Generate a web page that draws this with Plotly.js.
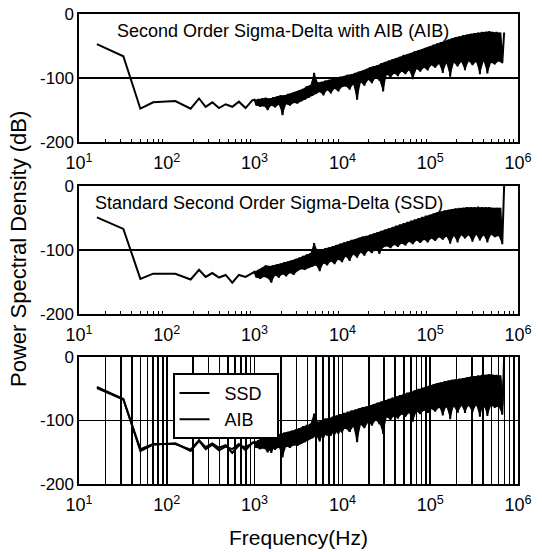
<!DOCTYPE html>
<html>
<head>
<meta charset="utf-8">
<script src="https://cdn.plot.ly/plotly-3.0.1.min.js"></script>
<style>html,body{margin:0;padding:0;background:#fff;}#chart{width:542px;height:552px;}</style>
</head>
<body>
<div id="chart"></div>
<script>
// Frequency bins (Hz)
const freq = [16, 32, 50, 70, 125, 187, 233, 277, 330, 393, 468, 557, 663, 789, 940,
  1000,1050,1100,1160,1220,1280,1340,1410,1480,1550,1630,1710,1800,1890,1980,2080,2180,2290,2410,2530,
  2650,2790,2930,3070,3230,3390,3560,3740,3920,4120,4320,4540,4760,5000,5250,5520,5790,6080,6390,6710,
  7040,7390,7760,8150,8560,8990,9440,9910,
  10400,10900,11500,12100,12700,13300,14000,14700,15400,16200,17000,17800,18700,19700,20700,21700,22800,23900,25100,26400,
  27700,29100,30500,32000,33600,35300,37100,39000,40900,42900,45100,47300,49700,52200,54800,57500,60400,63400,66600,69900,
  73400,77100,80900,85000,89200,93700,98400,
  103000,109000,114000,120000,126000,132000,139000,146000,153000,161000,169000,177000,186000,195000,205000,215000,226000,237000,249000,262000,
  275000,289000,303000,318000,334000,351000,368000,387000,406000,426000,448000,470000,494000,518000,544000,571000,600000,630000,662000,695000];

// PSD of second order sigma-delta with AIB (dB)
const aib = [-47,-66,-148,-138,-136,-148,-132,-145,-138,-147,-141,-145,-137,-147,-135,
  -134,-143,-133,-145,-132,-144,-131,-150,-132,-143,-130,-146,-129,-142,-127,-158,-127,-141,-125,-143,
  -124,-139,-122,-140,-120,-136,-117,-134,-113,-131,-111,-128,-92,-125,-107,-122,-106,-127,-104,-119,
  -103,-124,-101,-117,-100,-121,-98,-114,
  -97,-113,-95,-118,-94,-110,-92,-134,-90,-107,-89,-112,-86,-103,-83,-108,-82,-100,-80,-104,
  -77,-121,-75,-95,-73,-99,-71,-93,-69,-97,-67,-90,-64,-94,-63,-88,-61,-102,-58,-86,
  -57,-90,-55,-84,-53,-88,-51,
  -80,-48,-84,-46,-78,-44,-92,-42,-77,-40,-98,-38,-76,-36,-82,-35,-75,-33,-88,-32,
  -74,-31,-80,-30,-75,-29,-94,-28,-74,-28,-93,-27,-76,-28,-79,-28,-74,-29,-77,-29];

// PSD of standard second order sigma-delta (dB)
const ssd = [-49,-67,-145,-137,-137,-146,-131,-142,-136,-143,-139,-151,-139,-142,-136,
  -134,-143,-131,-145,-128,-142,-124,-144,-125,-151,-124,-140,-122,-143,-121,-138,-119,-141,-118,-136,
  -116,-139,-114,-133,-112,-130,-109,-131,-107,-128,-105,-126,-89,-124,-102,-133,-100,-121,-97,-124,
  -96,-118,-94,-122,-92,-115,-90,-119,
  -88,-110,-86,-117,-84,-107,-83,-112,-81,-104,-79,-109,-78,-101,-76,-105,-74,-98,-72,-106,
  -70,-96,-68,-94,-66,-97,-64,-92,-62,-95,-60,-90,-58,-93,-56,-87,-54,-91,-52,-85,
  -50,-89,-48,-84,-46,-88,-45,
  -82,-43,-86,-41,-80,-40,-84,-38,-79,-37,-90,-36,-78,-35,-88,-34,-77,-34,-82,-33,
  -77,-33,-87,-33,-76,-32,-85,-33,-77,-33,-88,-33,-76,-34,-80,-34,-78,-34,-91,0];

const xTickVals = [10, 100, 1000, 10000, 100000, 1000000];
const xTickText = ['10<sup>1</sup>','10<sup>2</sup>','10<sup>3</sup>','10<sup>4</sup>','10<sup>5</sup>','10<sup>6</sup>'];
const yTickVals = [-200, -100, 0];
const yTickText = ['-200', '-100', '0'];
const titles = ['Second Order Sigma-Delta with AIB (AIB)', 'Standard Second Order Sigma-Delta (SSD)'];
const seriesNames = ['SSD', 'AIB'];

const NOISE_START = 15;   // first index of the dense noisy part of the spectrum
const NOISE_END = 148;    // last index used for the solid noise band

const FONT = 'Liberation Sans, Arial, sans-serif';
const minorVals = [];
for (let d = 10; d < 1000000; d *= 10) for (let k = 2; k <= 9; k++) minorVals.push(k * d);

// Solid band between the alternating upper / lower samples of the noisy part
function band(vals, xa, ya) {
  const up = [], upx = [], lo = [], lox = [];
  for (let i = NOISE_START; i <= NOISE_END; i++) {
    if ((i - NOISE_START) % 2 === 0) { up.push(vals[i]); upx.push(freq[i]); }
    else { lo.push(vals[i]); lox.push(freq[i]); }
  }
  return {x: upx.concat(lox.reverse()), y: up.concat(lo.reverse()), xaxis: xa, yaxis: ya,
          mode: 'lines', line: {width: 0, color: '#000'}, fill: 'toself', fillcolor: '#000',
          showlegend: false, hoverinfo: 'skip'};
}

function xax(anchor, grid) {
  return {
    type: 'log', range: [1, 6], anchor: anchor,
    tickmode: 'array', tickvals: xTickVals, ticktext: xTickText,
    ticks: '', ticklabelstandoff: 4,
    showline: true, mirror: true, linecolor: '#000', linewidth: 1.6,
    showgrid: grid, gridcolor: '#000', gridwidth: 1.6,
    tickfont: {family: FONT, size: 18, color: '#000'},
    minor: {tickmode: 'array', tickvals: minorVals, ticks: 'inside', ticklen: 3, tickcolor: '#000', tickwidth: 1,
            showgrid: grid, gridcolor: '#000', gridwidth: 1.6},
    zeroline: false
  };
}
function yax(anchor, domain) {
  return {
    range: [-200, 0], anchor: anchor, domain: domain,
    tickmode: 'array', tickvals: yTickVals, ticktext: yTickText,
    ticks: '', showline: true, mirror: true, linecolor: '#000', linewidth: 1.6,
    showgrid: true, gridcolor: '#000', gridwidth: 1.5,
    tickfont: {family: FONT, size: 17, color: '#000'},
    zeroline: false
  };
}

const line = {color: '#000', width: 2.0, simplify: false};
const pad = '\u00a0\u00a0';
const traces = [
  band(aib, 'x', 'y'),
  band(ssd, 'x2', 'y2'),
  band(ssd, 'x3', 'y3'),
  band(aib, 'x3', 'y3'),
  {x: freq, y: aib, xaxis: 'x', yaxis: 'y', mode: 'lines', line: line, showlegend: false},
  {x: freq, y: ssd, xaxis: 'x2', yaxis: 'y2', mode: 'lines', line: line, showlegend: false},
  {x: freq, y: ssd, xaxis: 'x3', yaxis: 'y3', mode: 'lines', line: line, name: pad + seriesNames[0] + pad},
  {x: freq, y: aib, xaxis: 'x3', yaxis: 'y3', mode: 'lines', line: line, name: pad + seriesNames[1] + pad}
];

const layout = {
  width: 542, height: 552,
  margin: {l: 79, r: 24, t: 14, b: 68},
  paper_bgcolor: '#fff', plot_bgcolor: '#fff',
  font: {family: FONT, color: '#000'},
  xaxis: xax('y', false), yaxis: yax('x', [0.7277, 1]),
  xaxis2: xax('y2', false), yaxis2: yax('x2', [0.3617, 0.634]),
  xaxis3: xax('y3', true), yaxis3: yax('x3', [0, 0.2702]),
  showlegend: true,
  legend: {x: 0.214, y: 0.236, xanchor: 'left', yanchor: 'top', bgcolor: '#fff',
           bordercolor: '#000', borderwidth: 1.6, font: {family: FONT, size: 18, color: '#000'},
           tracegroupgap: 0},
  annotations: [
    {text: titles[0], xref: 'paper', yref: 'paper', x: 0.082, y: 0.9638, xanchor: 'left', yanchor: 'middle',
     showarrow: false, font: {family: FONT, size: 18, color: '#000'}},
    {text: titles[1], xref: 'paper', yref: 'paper', x: 0.0319, y: 0.598, xanchor: 'left', yanchor: 'middle',
     showarrow: false, font: {family: FONT, size: 18, color: '#000'}},
    {text: 'Power Spectral Density (dB)', xref: 'paper', yref: 'paper', x: -0.139, y: 0.5, xanchor: 'center', yanchor: 'middle',
     textangle: -90, showarrow: false, font: {family: FONT, size: 22, color: '#000'}},
    {text: 'Frequency(Hz)', xref: 'paper', yref: 'paper', x: 0.5, y: -0.1128, xanchor: 'center', yanchor: 'middle',
     showarrow: false, font: {family: FONT, size: 21, color: '#000'}}
  ]
};

Plotly.newPlot('chart', traces, layout, {displayModeBar: false, staticPlot: true});
</script>
</body>
</html>
